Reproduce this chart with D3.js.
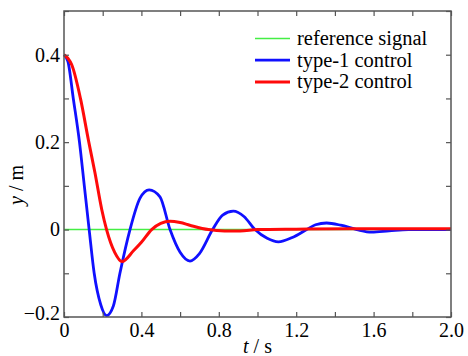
<!DOCTYPE html>
<html>
<head>
<meta charset="utf-8">
<script src="https://cdn.jsdelivr.net/npm/d3@7"></script>
<style>
  body { margin: 0; background: #fff; }
</style>
</head>
<body>
<div id="chart"></div>
<script>
// data
const seriesNames = ['reference signal', 'type-1 control', 'type-2 control'];

const refT = [0, 2.0];
const refY = [0, 0];

const type1T = [0, 0.02, 0.048, 0.08, 0.105, 0.13, 0.156, 0.19, 0.22, 0.255, 0.289, 0.341, 0.393, 0.44, 0.496, 0.548, 0.60, 0.651, 0.70, 0.768, 0.82, 0.875, 0.93, 0.987, 1.05, 1.108, 1.18, 1.254, 1.30, 1.357, 1.43, 1.513, 1.59, 1.68, 1.78, 2.0];
const type1Y = [0.4, 0.385, 0.3, 0.2, 0.1, 0, -0.1, -0.172, -0.197, -0.175, -0.1, 0, 0.072, 0.091, 0.075, 0, -0.052, -0.072, -0.055, 0, 0.033, 0.042, 0.03, 0, -0.02, -0.028, -0.018, 0, 0.011, 0.015, 0.01, 0, -0.006, -0.003, 0, 0];

const type2T = [0, 0.02, 0.04, 0.085, 0.126, 0.16, 0.195, 0.22, 0.262, 0.30, 0.36, 0.40, 0.453, 0.50, 0.548, 0.60, 0.65, 0.746, 0.83, 0.91, 1.0, 1.2, 1.5, 2.0];
const type2Y = [0.4, 0.392, 0.377, 0.3, 0.205, 0.13, 0.046, 0, -0.052, -0.073, -0.048, -0.029, 0, 0.014, 0.019, 0.016, 0.01, 0, -0.003, -0.003, 0, 0.001, 0.002, 0.002];

const xTicks = [0, 0.2, 0.4, 0.6, 0.8, 1.0, 1.2, 1.4, 1.6, 1.8, 2.0];
const xLabels = ['0', '', '0.4', '', '0.8', '', '1.2', '', '1.6', '', '2.0'];
const yTicks = [-0.2, -0.1, 0, 0.1, 0.2, 0.3, 0.4, 0.5];
const yLabels = ['\u22120.2', '', '0', '', '0.2', '', '0.4', ''];

// dimensions
const width = 468;
const height = 356;
const mLeft = 64, mRight = 451, mTop = 11, mBottom = 317;
const font = '"Liberation Serif", "Times New Roman", serif';

const colors = ['#44ee44', '#1010ff', '#ff0a0a'];
const widths = [1.6, 2.8, 3];

const svg = d3.select('#chart')
              .append('svg')
              .attr('width', width)
              .attr('height', height)
              .attr('font-family', font);

const xScale = d3.scaleLinear().domain([0, 2]).range([mLeft, mRight]);
const yScale = d3.scaleLinear().domain([-0.2, 0.5]).range([mBottom, mTop]);

// lines
const line = d3.line()
               .x(d => xScale(d[0]))
               .y(d => yScale(d[1]))
               .curve(d3.curveMonotoneX);

const series = [
    d3.zip(refT, refY),
    d3.zip(type1T, type1Y),
    d3.zip(type2T, type2Y)
];

svg.append('g')
   .selectAll('path')
   .data(series)
   .enter()
   .append('path')
   .attr('d', line)
   .attr('fill', 'none')
   .attr('stroke', (d, i) => colors[i])
   .attr('stroke-width', (d, i) => widths[i])
   .attr('stroke-linejoin', 'round');

// axes, ticks pointing inward on all sides
const axisColor = '#555';
const xAxis = d3.axisBottom(xScale).tickValues(xTicks)
                .tickFormat((d, i) => xLabels[i])
                .tickSizeInner(-5).tickSizeOuter(0).tickPadding(6);
const xTop = d3.axisTop(xScale).tickValues(xTicks).tickFormat('')
               .tickSizeInner(-5).tickSizeOuter(0);
const yAxis = d3.axisLeft(yScale).tickValues(yTicks)
                .tickFormat((d, i) => yLabels[i])
                .tickSizeInner(-5).tickSizeOuter(0).tickPadding(4);
const yRight = d3.axisRight(yScale).tickValues(yTicks).tickFormat('')
                 .tickSizeInner(-5).tickSizeOuter(0);

const gx = svg.append('g').attr('transform', `translate(0, ${mBottom})`).call(xAxis);
const gxt = svg.append('g').attr('transform', `translate(0, ${mTop})`).call(xTop);
const gy = svg.append('g').attr('transform', `translate(${mLeft}, 0)`).call(yAxis);
const gyr = svg.append('g').attr('transform', `translate(${mRight}, 0)`).call(yRight);

[gx, gxt, gy, gyr].forEach(g => {
    g.attr('font-family', font).attr('font-size', 20);
    g.select('.domain').remove();
    g.selectAll('line').attr('stroke', axisColor).attr('stroke-width', 1.2);
    g.selectAll('text').attr('fill', '#000');
});
// lowest y label sits a little higher
gy.selectAll('text').filter(d => d === -0.2).attr('dy', '0.12em');

svg.append('rect')
   .attr('x', mLeft).attr('y', mTop)
   .attr('width', mRight - mLeft).attr('height', mBottom - mTop)
   .attr('fill', 'none')
   .attr('stroke', axisColor)
   .attr('stroke-width', 1.5);

// axis titles
svg.append('text')
   .attr('x', (mLeft + mRight) / 2).attr('y', 353)
   .attr('text-anchor', 'middle')
   .attr('font-size', 20)
   .html('<tspan font-style="italic">t</tspan> / s');

svg.append('text')
   .attr('transform', 'translate(23, 185) rotate(-90)')
   .attr('text-anchor', 'middle')
   .attr('font-size', 20)
   .html('<tspan font-style="italic">y</tspan> / m');

// legend
const legend = svg.append('g')
                  .selectAll('g')
                  .data(seriesNames)
                  .enter()
                  .append('g')
                  .attr('transform', (d, i) => `translate(255, ${38.5 + i * 21.7})`);
legend.append('line')
      .attr('x1', 0).attr('x2', 35)
      .attr('stroke', (d, i) => colors[i])
      .attr('stroke-width', (d, i) => widths[i]);
legend.append('text')
      .attr('x', 42).attr('dy', '0.32em')
      .attr('font-size', 20.5)
      .text(d => d);
</script>
</body>
</html>
